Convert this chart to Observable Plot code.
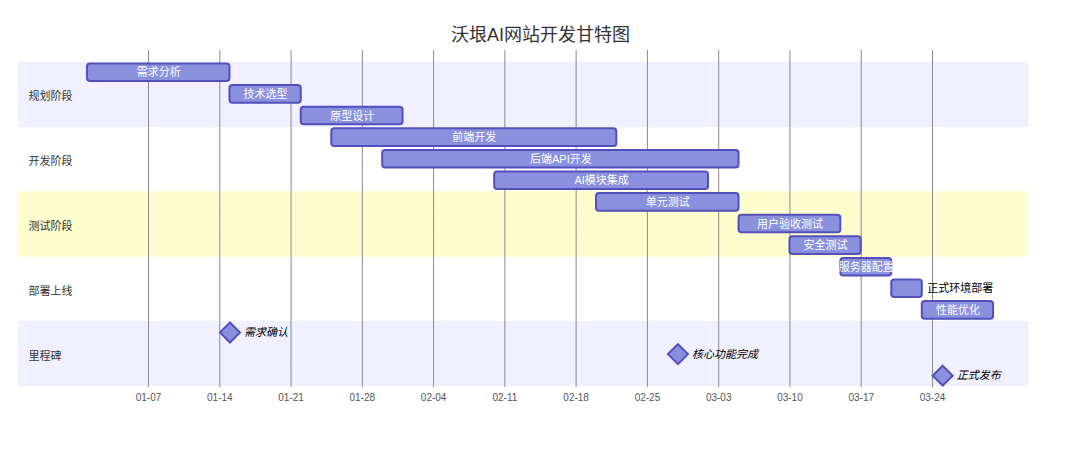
<!DOCTYPE html>
<html>
<head>
<meta charset="utf-8">
<script src="https://cdn.jsdelivr.net/npm/d3@7"></script>
<script src="https://cdn.jsdelivr.net/npm/@observablehq/plot@0.6"></script>
<style>
  html, body { margin: 0; padding: 0; background: #ffffff; }
  #chart svg { display: block; }
</style>
</head>
<body>
<div id="chart"></div>
<script>
const chartTitle = "沃垠AI网站开发甘特图";
const sections = ["规划阶段", "开发阶段", "测试阶段", "部署上线", "里程碑"];
const taskNames = ["需求分析", "技术选型", "原型设计", "前端开发", "后端API开发", "AI模块集成", "单元测试", "用户验收测试", "安全测试", "服务器配置", "正式环境部署", "性能优化"];
const taskSections = ["规划阶段", "规划阶段", "规划阶段", "开发阶段", "开发阶段", "开发阶段", "测试阶段", "测试阶段", "测试阶段", "部署上线", "部署上线", "部署上线"];
const taskStarts = ["2024-01-01", "2024-01-15", "2024-01-22", "2024-01-25", "2024-01-30", "2024-02-10", "2024-02-20", "2024-03-05", "2024-03-10", "2024-03-15", "2024-03-20", "2024-03-23"];
const taskEnds = ["2024-01-15", "2024-01-22", "2024-02-01", "2024-02-22", "2024-03-05", "2024-03-02", "2024-03-05", "2024-03-15", "2024-03-17", "2024-03-20", "2024-03-23", "2024-03-30"];
const milestoneNames = ["需求确认", "核心功能完成", "正式发布"];
const milestoneDates = ["2024-01-15", "2024-02-28", "2024-03-25"];
const tickDates = ["2024-01-07", "2024-01-14", "2024-01-21", "2024-01-28", "2024-02-04", "2024-02-11", "2024-02-18", "2024-02-25", "2024-03-03", "2024-03-10", "2024-03-17", "2024-03-24"];

const sectionFills = ["#f0f0ff", "#ffffff", "#fffccd", "#ffffff"];
const xDomain = [new Date(Date.UTC(2023, 11, 25, 5, 30)), new Date(Date.UTC(2024, 3, 2, 10, 20))];

const tasks = taskNames.map((name, i) => ({
  name, section: taskSections[i], start: new Date(taskStarts[i]), end: new Date(taskEnds[i])
}));
const milestones = milestoneNames.map((name, i) => ({ name, section: "里程碑", date: new Date(milestoneDates[i]) }));
const rows = tasks.map(t => ({ name: t.name, section: t.section })).concat(milestones.map(m => ({ name: m.name, section: m.section })));
const rowNames = rows.map(r => r.name);
const sectionLabels = sections.map(s => {
  const r = rows.filter(d => d.section === s);
  return { section: s, row: r[Math.floor(r.length / 2)].name };
});
const ticks = tickDates.map(d => new Date(d));

const DAY = 86400000;
const dayPx = 1010 / ((xDomain[1] - xDomain[0]) / DAY);
const isOutside = t => t.name.length * 10 > ((t.end - t.start) / DAY) * dayPx;

const plot = Plot.plot({
  width: 1080,
  height: 452,
  marginTop: 62,
  marginBottom: 66,
  marginLeft: 18,
  marginRight: 52,
  style: { fontFamily: "'Liberation Sans', 'Noto Sans CJK SC', sans-serif", fontSize: "11px", background: "#ffffff" },
  x: { type: "utc", domain: xDomain, axis: null },
  y: { type: "band", domain: rowNames, padding: 0, round: false, axis: null },
  marks: [
    Plot.barX(rows.filter(r => sectionFills[sections.indexOf(r.section) % 4] !== "#ffffff"), {
      x1: () => xDomain[0], x2: () => xDomain[1], y: "name",
      fill: r => sectionFills[sections.indexOf(r.section) % 4],
      stroke: r => sectionFills[sections.indexOf(r.section) % 4], strokeWidth: 0.6
    }),
    Plot.ruleX(ticks, { stroke: "#8a8a8a", strokeWidth: 1, insetTop: -12, insetBottom: -1 }),
    Plot.axisX({ ticks, tickFormat: d3.utcFormat("%m-%d"), tickSize: 0, tickPadding: 7, fontSize: 10, fill: "#555" }),
    Plot.barX(tasks, {
      x1: "start", x2: "end", y: "name",
      fill: "#8a90dd", stroke: "#534fbc", strokeWidth: 2, rx: 3,
      insetTop: 1.5, insetBottom: 2.5
    }),
    Plot.text(tasks.filter(t => !isOutside(t)), {
      x: t => new Date((+t.start + +t.end) / 2), y: "name", text: "name",
      fill: "#ffffff", fontSize: 11, dy: -0.5
    }),
    Plot.text(tasks.filter(isOutside), {
      x: "end", y: "name", text: "name", textAnchor: "start", dx: 5,
      fill: "#000000", fontSize: 11, dy: -0.5
    }),
    Plot.dot(milestones, {
      x: "date", y: "name", symbol: "diamond2", r: 9,
      fill: "#8a90dd", stroke: "#534fbc", strokeWidth: 2
    }),
    Plot.text(milestones, {
      x: "date", y: "name", text: "name", textAnchor: "start", dx: 14,
      fill: "#000000", fontSize: 11, fontStyle: "italic"
    }),
    Plot.text(sectionLabels, {
      y: "row", text: "section", frameAnchor: "left", dx: 10, dy: 2,
      textAnchor: "start", fill: "#333333", fontSize: 11
    }),
    Plot.text([chartTitle], {
      frameAnchor: "top", lineAnchor: "middle", dy: -27, dx: 17,
      fontSize: 18, fill: "#333333"
    })
  ]
});
document.getElementById("chart").appendChild(plot);
</script>
</body>
</html>
